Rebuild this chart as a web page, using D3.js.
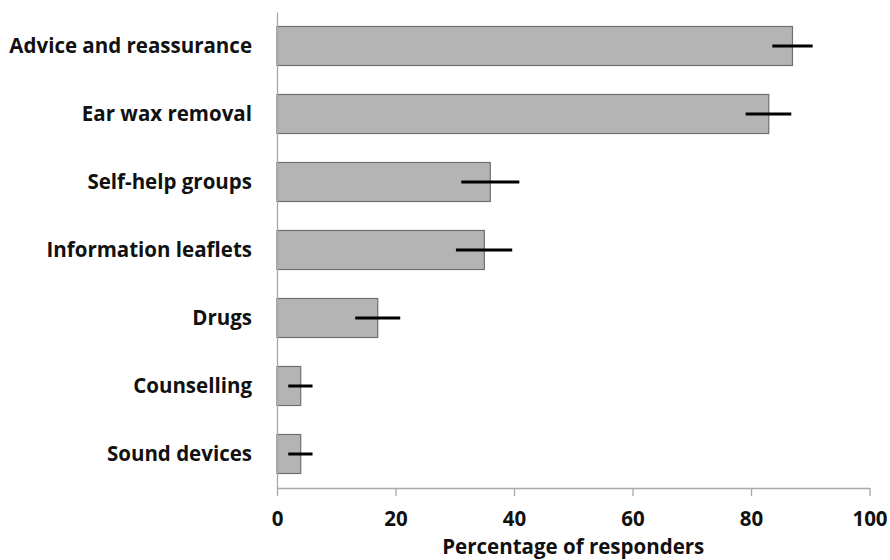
<!DOCTYPE html>
<html>
<head>
<meta charset="utf-8">
<script src="https://cdn.jsdelivr.net/npm/d3@7"></script>
<style>
  html, body { margin: 0; padding: 0; background: #fff; }
  svg { display: block; }
  text { font-family: "Open Sans", Lato, sans-serif; font-weight: bold; fill: #111; }
</style>
</head>
<body>
<svg id="chart" width="890" height="560"></svg>
<script>
// Services reported by responders, with the spread shown by each error bar
const categories = ["Advice and reassurance", "Ear wax removal", "Self-help groups",
  "Information leaflets", "Drugs", "Counselling", "Sound devices"];
const percentages = [87, 83, 36, 35, 17, 4, 4];
const errorLow = [83.6, 79.1, 31.1, 30.2, 13.2, 1.9, 1.9];
const errorHigh = [90.4, 86.8, 40.9, 39.7, 20.8, 6.0, 6.0];
const xTicks = [0, 20, 40, 60, 80, 100];
const xTitle = "Percentage of responders";

const svg = d3.select("#chart");
const plotLeft = 277, plotRight = 869.5, plotTop = 12, plotBottom = 488;
const fontFamily = "'Open Sans', Lato, sans-serif";
const fontSize = 20.5;

const x = d3.scaleLinear().domain([0, 100]).range([plotLeft, plotRight]);
const y = d3.scaleBand().domain(categories).range([plotTop, plotBottom])
  .paddingInner(0.426).paddingOuter(0.213);

const rows = categories.map((c, i) => ({
  c, v: percentages[i], lo: errorLow[i], hi: errorHigh[i]
}));

// Bars
svg.append("g").selectAll("rect").data(rows).join("rect")
  .attr("x", x(0))
  .attr("y", d => y(d.c))
  .attr("width", d => x(d.v) - x(0))
  .attr("height", y.bandwidth())
  .attr("fill", "#b4b4b4")
  .attr("stroke", "#6f6f6f")
  .attr("stroke-width", 1.2);

// Error bars (horizontal only)
svg.append("g").selectAll("line").data(rows).join("line")
  .attr("x1", d => x(d.lo))
  .attr("x2", d => x(d.hi))
  .attr("y1", d => y(d.c) + y.bandwidth() / 2)
  .attr("y2", d => y(d.c) + y.bandwidth() / 2)
  .attr("stroke", "#000")
  .attr("stroke-width", 3);

// X axis
const xAxis = svg.append("g").attr("transform", `translate(0,${plotBottom})`)
  .call(d3.axisBottom(x).tickValues(xTicks).tickSize(8).tickPadding(15.5).tickSizeOuter(0));
xAxis.select(".domain").attr("stroke", "#a8a8a8").attr("stroke-width", 1.3);
xAxis.selectAll(".tick line").attr("stroke", "#a8a8a8").attr("stroke-width", 1.3);
xAxis.selectAll(".tick text")
  .attr("font-size", fontSize).attr("font-family", fontFamily).attr("font-weight", "bold")
  .attr("fill", "#111");

// Y axis
const yAxis = svg.append("g").attr("transform", `translate(${plotLeft},0)`)
  .call(d3.axisLeft(y).tickSize(0).tickPadding(25).tickSizeOuter(0));
yAxis.select(".domain").attr("stroke", "#a8a8a8").attr("stroke-width", 1.3);
yAxis.selectAll(".tick text")
  .attr("font-size", fontSize).attr("font-family", fontFamily).attr("font-weight", "bold")
  .attr("fill", "#111");

// Axis title
svg.append("text")
  .attr("x", (plotLeft + plotRight) / 2)
  .attr("y", 554)
  .attr("text-anchor", "middle")
  .attr("font-size", fontSize)
  .text(xTitle);
</script>
</body>
</html>
